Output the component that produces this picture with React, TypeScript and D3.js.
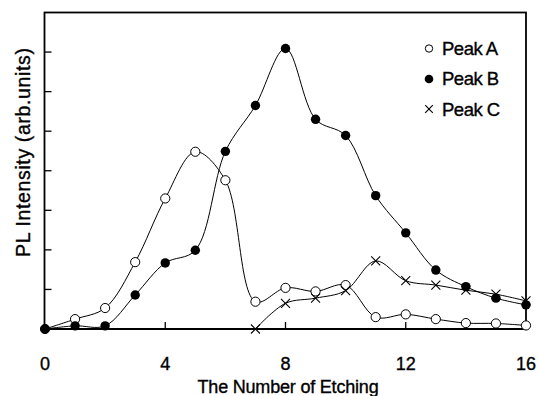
import React from "react";
import * as d3 from "d3";

const xValues = [0, 1, 2, 3, 4, 5, 6, 7, 8, 9, 10, 11, 12, 13, 14, 15, 16];
const peakA = [0, 0.25, 0.53, 1.69, 3.3, 4.48, 3.76, 0.69, 1.04, 0.95, 1.11, 0.3, 0.37, 0.25, 0.15, 0.14, 0.09];
const peakB = [0, 0.08, 0.08, 0.86, 1.67, 1.99, 4.49, 5.65, 7.09, 5.3, 4.89, 3.37, 2.43, 1.49, 1.07, 0.78, 0.61];
const peakCx = [7, 8, 9, 10, 11, 12, 13, 14, 15, 16];
const peakC = [0, 0.65, 0.78, 0.97, 1.72, 1.22, 1.11, 0.98, 0.88, 0.71];
const xTickLabels = [0, 4, 8, 12, 16];
const yTicks = [1, 2, 3, 4, 5, 6, 7];
const legendLabels = ["Peak A", "Peak B", "Peak C"];

const W = 539;
const H = 396;
const FONT = "'Liberation Sans', Arial, Helvetica, sans-serif";

export default function App() {
  const x = d3.scaleLinear().domain([0, 16]).range([45, 526]);
  const y = d3.scaleLinear().domain([0, 8]).range([329, 12.5]);
  const line = d3
    .line<[number, number]>()
    .x((d) => x(d[0]))
    .y((d) => y(d[1]))
    .curve(d3.curveCatmullRom.alpha(0.5));

  const ptsA: [number, number][] = xValues.map((v, i) => [v, peakA[i]]);
  const ptsB: [number, number][] = xValues.map((v, i) => [v, peakB[i]]);
  const ptsC: [number, number][] = peakCx.map((v, i) => [v, peakC[i]]);

  const cross = (cx: number, cy: number, s: number, key: string) => (
    <g key={key} stroke="#000" strokeWidth={1.1}>
      <line x1={cx - s} y1={cy - s} x2={cx + s} y2={cy + s} />
      <line x1={cx - s} y1={cy + s} x2={cx + s} y2={cy - s} />
    </g>
  );

  const left = x(0) - 0.5;
  const right = x(16);
  const top = y(8);
  const bottom = y(0);
  const textStroke = { stroke: "#000", strokeWidth: 0.35 };

  return (
    <svg
      width={W}
      height={H}
      style={{ position: "absolute", left: 0, top: 0, background: "#fff" }}
      fontFamily={FONT}
    >
      <rect x={0} y={0} width={W} height={H} fill="#fff" />
      <rect x={left} y={top} width={right - left} height={bottom - top} fill="none" stroke="#000" strokeWidth={1.8} />
      <line x1={left} x2={right} y1={bottom} y2={bottom} stroke="#000" strokeWidth={2.2} />
      {yTicks.map((t) => (
        <line key={"yt" + t} x1={left} x2={left + 7} y1={y(t)} y2={y(t)} stroke="#000" strokeWidth={1.3} />
      ))}
      {xTickLabels.filter((t) => t > 0 && t < 16).map((t) => (
        <line key={"xt" + t} x1={x(t)} x2={x(t)} y1={bottom} y2={bottom - 7} stroke="#000" strokeWidth={1.3} />
      ))}
      {xTickLabels.map((t) => (
        <text key={"xl" + t} x={x(t)} y={370} fontSize={18} textAnchor="middle" fill="#000" {...textStroke}>
          {t}
        </text>
      ))}
      <text x={288} y={393} fontSize={18} textAnchor="middle" fill="#000" letterSpacing={-0.2} {...textStroke}>
        The Number of Etching
      </text>
      <text
        transform={`translate(29.5,152.5) rotate(-90)`}
        fontSize={19.5}
        textAnchor="middle"
        fill="#000"
        textLength={209}
        lengthAdjust="spacing"
        {...textStroke}
      >
        PL Intensity (arb.units)
      </text>

      <path d={line(ptsA) || ""} fill="none" stroke="#000" strokeWidth={1} />
      <path d={line(ptsB) || ""} fill="none" stroke="#000" strokeWidth={1} />
      <path d={line(ptsC) || ""} fill="none" stroke="#000" strokeWidth={1} />

      {ptsA.map((p, i) => (
        <circle key={"a" + i} cx={x(p[0])} cy={y(p[1])} r={4.6} fill="#fff" stroke="#000" strokeWidth={1} />
      ))}
      {ptsB.map((p, i) => (
        <circle key={"b" + i} cx={x(p[0])} cy={y(p[1])} r={4.7} fill="#000" />
      ))}
      {ptsC.map((p, i) => cross(x(p[0]), y(p[1]), 4.5, "c" + i))}

      <circle cx={429} cy={48.5} r={3.7} fill="#fff" stroke="#000" strokeWidth={1} />
      <circle cx={429} cy={79} r={4.3} fill="#000" />
      {cross(429, 109, 3.8, "lc")}
      {legendLabels.map((l, i) => (
        <text key={l} x={442} y={55 + i * 30.3} fontSize={18.5} fill="#000" letterSpacing={-0.5} {...textStroke}>
          {l}
        </text>
      ))}
    </svg>
  );
}
